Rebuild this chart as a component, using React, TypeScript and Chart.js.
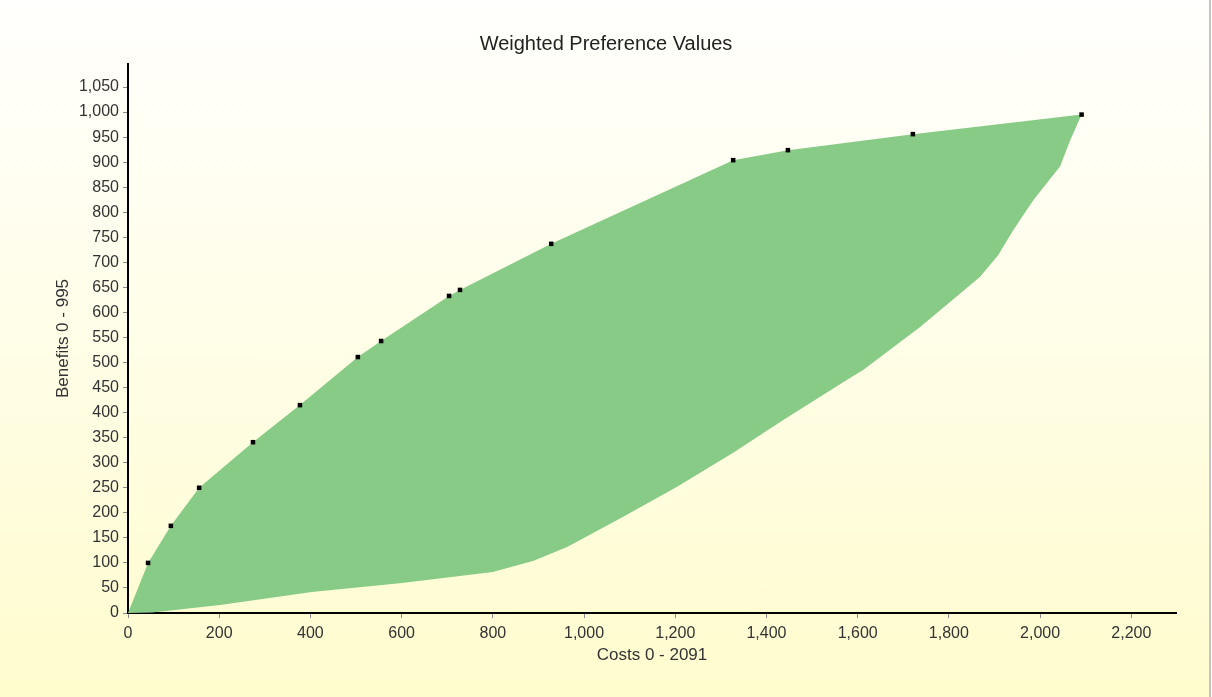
import { useEffect, useRef } from "react";
import { Chart, registerables } from "chart.js";

Chart.register(...registerables);

const chartTitle = "Weighted Preference Values";
const xTitle = "Costs 0 - 2091";
const yTitle = "Benefits 0 - 995";

// Upper boundary of the region (efficient frontier), marked points
const upperCosts = [0, 44, 94, 156, 274, 377, 504, 555, 704, 728, 928, 1327, 1447, 1721, 2091];
const upperBenefits = [0, 100, 174, 250, 341, 415, 511, 543, 633, 645, 737, 904, 924, 956, 995];

// Lower boundary of the region
const lowerCosts = [0, 53, 202, 403, 601, 800, 888, 963, 1086, 1204, 1327, 1436, 1583, 1612, 1737, 1868, 1908, 1941, 1985, 2044, 2066, 2091];
const lowerBenefits = [0, 1, 16, 42, 60, 82, 104, 132, 192, 252, 320, 385, 469, 485, 571, 671, 714, 764, 824, 892, 944, 995];

const xMax = 2298;
const xStep = 200;
const yMax = 1096;
const yStep = 50;

const FONT = "'Liberation Sans', Arial, sans-serif";

export default function App() {
  const ref = useRef<HTMLCanvasElement>(null);

  useEffect(() => {
    const polygon = [
      ...upperCosts.map((x, i) => ({ x, y: upperBenefits[i] })),
      ...lowerCosts.map((x, i) => ({ x, y: lowerBenefits[i] })).reverse(),
    ];
    const markers = upperCosts.slice(1).map((x, i) => ({ x, y: upperBenefits[i + 1] }));

    const chart = new Chart(ref.current!, {
      type: "scatter",
      data: {
        datasets: [
          {
            label: "points",
            data: markers,
            showLine: false,
            pointStyle: "rect",
            pointRadius: 3.2,
            pointHoverRadius: 3.2,
            backgroundColor: "#000000",
            borderColor: "#000000",
            borderWidth: 0,
          },
          {
            label: "region",
            data: polygon,
            showLine: true,
            tension: 0,
            pointRadius: 0,
            pointHoverRadius: 0,
            borderWidth: 0,
            borderColor: "rgba(0,0,0,0)",
            backgroundColor: "#88CB87",
            fill: "shape" as any,
          },
        ],
      },
      options: {
        animation: false,
        responsive: true,
        maintainAspectRatio: false,
        events: [],
        layout: { padding: 0 },
        plugins: {
          legend: { display: false },
          tooltip: { enabled: false },
          title: {
            display: true,
            text: chartTitle,
            color: "#222222",
            font: { family: FONT, size: 20, weight: "normal" },
            padding: { top: 32, bottom: 8 },
          },
        },
        scales: {
          x: {
            type: "linear",
            min: 0,
            max: xMax,
            afterBuildTicks: (s: any) => {
              s.ticks = s.ticks.filter((t: any) => t.value % xStep === 0);
            },
            afterFit: (s: any) => {
              s.height = 84;
            },
            ticks: {
              stepSize: xStep,
              includeBounds: false,
              color: "#333333",
              font: { family: FONT, size: 16 },
              padding: 6,
              maxRotation: 0,
              autoSkip: false,
              callback: (v: any) => Number(v).toLocaleString("en-US"),
            },
            grid: { drawOnChartArea: false, drawTicks: true, tickLength: 5, color: "#8a8a8a" },
            border: { display: true, color: "#000000", width: 2 },
            title: {
              display: true,
              text: xTitle,
              color: "#333333",
              font: { family: FONT, size: 17 },
              padding: { top: 0, bottom: 31.6 },
            },
          },
          y: {
            type: "linear",
            min: 0,
            max: yMax,
            afterBuildTicks: (s: any) => {
              s.ticks = s.ticks.filter((t: any) => t.value % yStep === 0);
            },
            afterFit: (s: any) => {
              s.width = 128;
            },
            ticks: {
              stepSize: yStep,
              includeBounds: false,
              color: "#333333",
              font: { family: FONT, size: 16 },
              padding: 4,
              autoSkip: false,
              callback: (v: any) => Number(v).toLocaleString("en-US"),
            },
            grid: { drawOnChartArea: false, drawTicks: true, tickLength: 5, color: "#8a8a8a" },
            border: { display: true, color: "#000000", width: 2 },
            title: {
              display: true,
              text: yTitle,
              color: "#333333",
              font: { family: FONT, size: 17 },
              padding: { top: 53.6, bottom: 0 },
            },
          },
          spacer: {
            type: "linear",
            position: "right",
            display: true,
            afterFit: (s: any) => {
              s.width = 36;
            },
            ticks: { display: false },
            grid: { display: false, drawTicks: false },
            border: { display: false },
            title: { display: false },
          },
        },
      },
    });
    return () => chart.destroy();
  }, []);

  return (
    <div
      style={{
        position: "fixed",
        left: 0,
        top: 0,
        width: 1212,
        height: 697,
        background: "linear-gradient(to bottom, #fffffd 0%, #fffeeb 40%, #fffcce 100%)",
      }}
    >
      <canvas ref={ref} />
      <div
        style={{
          position: "absolute",
          left: 1209,
          top: 0,
          width: 2,
          height: 697,
          background: "#c4c4c4",
        }}
      />
    </div>
  );
}
